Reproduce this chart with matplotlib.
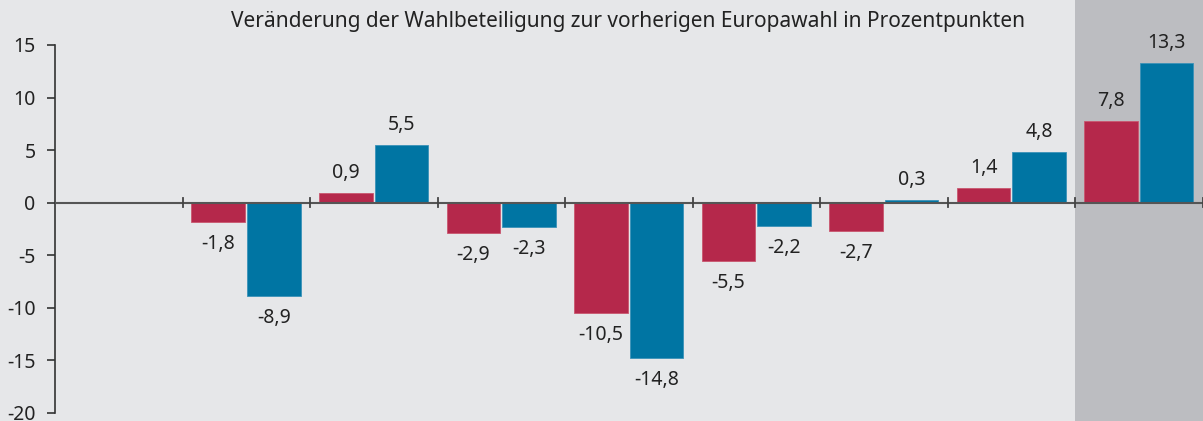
import numpy as np
from matplotlib import pyplot as plt
from matplotlib.patches import Rectangle
from matplotlib.transforms import blended_transform_factory

# values (Prozentpunkte), first group has no bars
red_vals = [np.nan, -1.8, 0.9, -2.9, -10.5, -5.5, -2.7, 1.4, 7.8]
blue_vals = [np.nan, -8.9, 5.5, -2.3, -14.8, -2.2, 0.3, 4.8, 13.3]
title = 'Veränderung der Wahlbeteiligung zur vorherigen Europawahl in Prozentpunkten'
yticks = [-20, -15, -10, -5, 0, 5, 10, 15]

red = '#b5284b'
blue = '#0075a3'
bg = '#e6e7e9'
shade = '#bcbdc1'
txt = '#222222'

plt.rcParams['font.family'] = ['Noto Sans', 'DejaVu Sans']

fig = plt.figure(figsize=(12.03, 4.21), dpi=100)
fig.patch.set_facecolor(bg)
ax = fig.add_axes([55 / 1203, 8 / 421, 1148 / 1203, 368 / 421])
ax.set_facecolor('none')

n = len(red_vals)
x = np.arange(n)

# shaded last group, full figure height
tr = blended_transform_factory(ax.transData, fig.transFigure)
ax.add_patch(Rectangle((n - 1.5, 0), 1, 1, transform=tr, facecolor=shade,
                       edgecolor='none', zorder=0, clip_on=False))

w = 0.42
rb = ax.bar(x - 0.22, red_vals, w, color=red, edgecolor='#c9566f', linewidth=0.6, zorder=2)
bb = ax.bar(x + 0.215, blue_vals, w, color=blue, edgecolor='#3b92b8', linewidth=0.6, zorder=2)

for bars, vals in ((rb, red_vals), (bb, blue_vals)):
    for b, v in zip(bars, vals):
        if np.isnan(v):
            continue
        cx = b.get_x() + b.get_width() / 2
        off = 10 if v > 0 else -12
        ax.annotate(f'{v:.1f}'.replace('.', ','), (cx, v), xytext=(0, off),
                    textcoords='offset pixels', ha='center',
                    va='bottom' if v > 0 else 'top', fontsize=14, color=txt)

# zero line with group separator ticks
ax.axhline(0, color='#555555', lw=1.5, zorder=3)
for s in np.arange(0.5, n - 0.4, 1):
    ax.plot([s, s], [-0.45, 0.45], color='#444444', lw=1.3, zorder=3, clip_on=False)

ax.set_xlim(-0.5, n - 0.5)
ax.set_ylim(-20, 15)
ax.set_yticks(yticks)
ax.set_yticklabels([str(t) for t in yticks], fontsize=14, color=txt)
ax.set_xticks([])
ax.tick_params(axis='y', length=6, width=1.2, color='#333333', pad=8)
for sp in ['top', 'right', 'bottom']:
    ax.spines[sp].set_visible(False)
ax.spines['left'].set_color('#333333')
ax.spines['left'].set_linewidth(1.2)

fig.text(0.522, 1 - 22 / 421, title, ha='center', va='center', fontsize=15, color=txt)

fig.savefig('out.png', dpi=100, facecolor=bg)
